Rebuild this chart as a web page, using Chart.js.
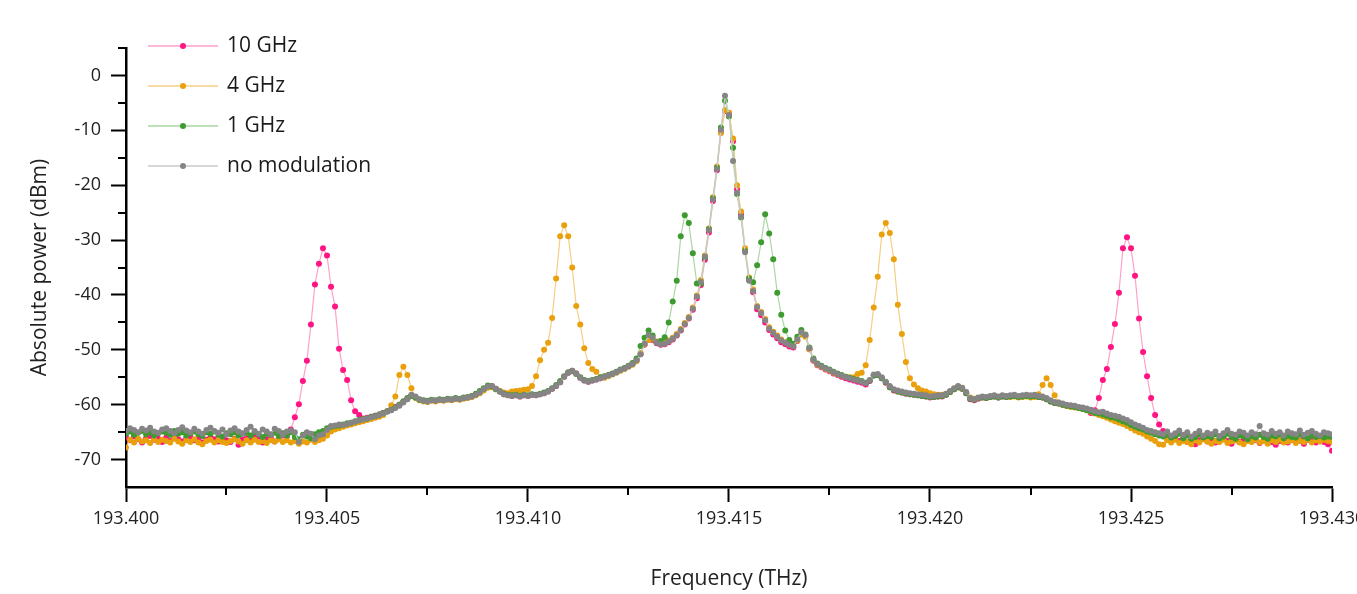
<!DOCTYPE html>
<html>
<head>
<meta charset="utf-8">
<script src="https://cdn.jsdelivr.net/npm/chart.js@4"></script>
<style>
  html, body { margin: 0; padding: 0; background: #fff; overflow: hidden; }
  #wrap { position: relative; width: 1380px; height: 594px; }
</style>
</head>
<body>
<div id="wrap"><canvas id="c"></canvas></div>
<script>
// sampling grid of the spectrum analyser trace (THz)
const freqStart = 193.400;
const freqStep = 0.0001;

const seriesLabels = ['10 GHz', '4 GHz', '1 GHz', 'no modulation'];

// absolute power (dBm), one value per grid step
const power10GHz = [
  -66.0,-66.5,-65.8,-66.3,-66.9,-66.1,-65.7,-66.4,-66.2,-66.8,
  -66.0,-66.6,-65.9,-66.3,-66.7,-66.1,-65.8,-66.5,-66.2,-66.9,
  -66.4,-65.9,-66.3,-66.7,-66.0,-66.5,-66.8,-66.2,-67.3,-66.4,
  -66.1,-66.6,-65.8,-66.4,-66.9,-66.3,-66.0,-66.7,-66.2,-65.6,
  -65.8,-64.5,-62.3,-59.9,-55.7,-52.0,-45.4,-38.1,-34.3,-31.5,
  -32.8,-38.5,-42.1,-49.8,-53.7,-55.5,-59.2,-61.2,-61.9,-62.5,
  -62.4,-62.2,-62.0,-61.8,-61.5,-61.2,-60.8,-60.4,-60.0,-59.4,
  -58.9,-58.3,-58.6,-59.1,-59.3,-59.4,-59.2,-59.3,-59.1,-59.2,
  -59.0,-59.1,-58.9,-59.0,-58.8,-58.7,-58.5,-58.2,-57.8,-57.2,
  -56.7,-56.6,-57.1,-57.6,-58.1,-58.3,-58.4,-58.3,-58.5,-58.3,
  -58.4,-58.2,-58.3,-58.1,-57.9,-57.6,-57.1,-56.6,-55.9,-54.9,
  -54.2,-53.8,-54.3,-55.1,-55.6,-55.8,-55.6,-55.4,-55.2,-54.9,
  -54.7,-54.4,-54.1,-53.7,-53.4,-53.0,-52.6,-51.9,-50.8,-49.1,
  -48.1,-48.2,-48.8,-49.1,-49.0,-48.6,-48.1,-47.4,-46.5,-45.4,
  -44.3,-42.7,-40.6,-38.2,-33.6,-28.6,-22.9,-17.3,-10.4,-6.5,
  -6.9,-12.0,-20.8,-25.3,-31.8,-37.2,-39.5,-42.6,-43.7,-45.0,
  -46.4,-47.2,-47.9,-48.6,-49.0,-49.4,-49.6,-48.4,-47.1,-47.5,
  -49.9,-52.0,-52.8,-53.2,-53.6,-53.9,-54.3,-54.6,-54.9,-55.2,
  -55.4,-55.6,-55.8,-56.0,-56.3,-55.7,-54.7,-54.6,-55.2,-56.0,
  -56.8,-57.4,-57.6,-57.8,-58.0,-58.1,-58.2,-58.3,-58.4,-58.5,
  -58.7,-58.6,-58.5,-58.5,-58.2,-57.7,-57.2,-56.8,-57.1,-57.9,
  -59.0,-59.2,-58.9,-58.7,-58.8,-58.6,-58.5,-58.7,-58.5,-58.6,
  -58.5,-58.4,-58.6,-58.5,-58.4,-58.5,-58.4,-58.6,-58.7,-59.0,
  -59.4,-59.7,-59.8,-60.0,-60.2,-60.3,-60.4,-60.6,-60.7,-60.9,
  -61.5,-61.0,-58.8,-55.5,-53.5,-49.5,-45.3,-39.6,-31.5,-29.5,
  -31.5,-36.5,-44.3,-50.4,-54.8,-58.8,-61.9,-63.6,-64.8,-65.6,
  -66.3,-65.9,-66.6,-66.2,-66.8,-66.4,-67.2,-66.5,-66.1,-66.7,
  -66.3,-66.9,-66.4,-66.0,-66.6,-67.1,-66.3,-66.8,-66.5,-66.2,
  -66.7,-66.4,-67.0,-66.5,-66.2,-66.8,-67.3,-66.6,-66.4,-66.9,
  -66.3,-66.7,-66.5,-67.1,-66.4,-66.6,-66.9,-66.3,-66.8,-67.2,
  -68.4
];

const power4GHz = [
  -67.8,-66.4,-66.9,-66.2,-66.7,-66.5,-67.0,-66.3,-66.8,-66.4,
  -66.6,-66.9,-66.2,-66.7,-67.1,-66.5,-66.8,-66.3,-66.9,-67.2,
  -66.6,-66.4,-66.9,-66.5,-66.8,-67.0,-66.6,-66.3,-66.7,-67.1,
  -66.5,-66.9,-66.4,-66.8,-66.6,-67.0,-66.5,-66.7,-66.3,-66.8,
  -66.5,-66.9,-66.6,-67.1,-66.7,-66.9,-66.4,-66.8,-66.5,-66.2,
  -65.6,-64.9,-64.5,-64.3,-64.0,-63.8,-63.6,-63.4,-63.2,-63.0,
  -62.8,-62.6,-62.4,-62.2,-61.9,-61.2,-60.1,-58.5,-54.6,-53.1,
  -54.6,-57.0,-58.8,-59.2,-59.4,-59.5,-59.3,-59.4,-59.2,-59.3,
  -59.1,-59.2,-59.0,-59.1,-58.9,-58.8,-58.6,-58.3,-57.9,-57.4,
  -56.9,-56.8,-57.2,-57.5,-57.8,-57.9,-57.6,-57.5,-57.4,-57.3,
  -57.2,-56.6,-54.8,-51.9,-50.0,-48.7,-44.2,-37.0,-29.3,-27.3,
  -29.3,-35.0,-42.0,-45.4,-49.7,-52.4,-53.5,-54.0,-55.0,-55.1,
  -54.8,-54.5,-54.2,-53.8,-53.5,-53.1,-52.7,-52.1,-50.6,-49.0,
  -48.2,-48.0,-48.5,-48.8,-48.7,-48.3,-47.8,-47.1,-46.2,-45.1,
  -44.0,-42.3,-40.1,-37.3,-32.8,-27.9,-22.2,-16.6,-10.5,-6.3,
  -6.8,-11.5,-20.0,-24.8,-31.5,-36.8,-39.0,-42.0,-43.1,-44.4,
  -45.9,-46.7,-47.4,-48.1,-48.6,-49.0,-49.2,-48.3,-47.2,-47.6,
  -49.9,-51.9,-52.7,-53.1,-53.5,-53.8,-54.2,-54.5,-54.7,-54.9,
  -55.0,-55.0,-54.4,-54.2,-52.8,-48.2,-42.3,-36.7,-29.0,-26.9,
  -28.7,-33.5,-41.8,-47.1,-52.2,-55.2,-56.3,-57.0,-57.4,-57.6,
  -57.9,-58.1,-58.2,-58.2,-58.0,-57.6,-57.1,-56.7,-57.0,-57.8,
  -58.7,-58.9,-58.8,-58.6,-58.7,-58.5,-58.4,-58.6,-58.4,-58.5,
  -58.6,-58.5,-58.7,-58.6,-58.5,-58.7,-58.6,-58.1,-56.4,-55.2,
  -56.4,-58.3,-59.6,-60.0,-60.2,-60.4,-60.5,-60.6,-60.8,-61.0,
  -61.3,-61.6,-61.9,-62.1,-62.4,-62.7,-63.0,-63.3,-63.5,-63.9,
  -64.3,-64.7,-65.0,-65.3,-65.8,-66.2,-66.6,-67.2,-67.3,-66.5,
  -66.9,-66.4,-67.0,-66.6,-66.8,-67.2,-66.5,-66.9,-66.3,-66.7,
  -67.1,-66.6,-66.8,-66.4,-67.0,-66.7,-66.5,-66.9,-67.2,-66.6,
  -66.8,-66.3,-66.9,-66.6,-67.1,-66.5,-66.8,-66.4,-66.9,-66.7,
  -66.5,-67.0,-66.6,-66.8,-66.3,-66.9,-66.5,-66.7,-66.4,-66.6,
  -66.8
];

const power1GHz = [
  -65.3,-64.9,-65.5,-65.1,-64.8,-65.4,-65.0,-65.6,-65.2,-64.9,
  -65.1,-65.5,-64.8,-65.3,-65.0,-65.6,-65.2,-64.9,-65.4,-65.7,
  -65.0,-65.3,-64.9,-65.5,-65.8,-65.2,-65.4,-65.0,-65.6,-65.3,
  -65.1,-65.6,-65.0,-65.4,-65.9,-65.3,-65.5,-65.1,-65.7,-65.2,
  -65.6,-65.0,-65.9,-66.3,-65.5,-65.8,-66.1,-65.4,-65.0,-64.8,
  -64.3,-64.0,-63.9,-63.8,-63.6,-63.4,-63.3,-63.0,-62.8,-62.6,
  -62.5,-62.2,-62.0,-61.8,-61.5,-61.2,-60.9,-60.5,-60.0,-59.4,
  -58.8,-58.4,-58.7,-59.1,-59.2,-59.3,-59.1,-59.2,-59.0,-59.1,
  -58.9,-59.0,-58.8,-58.9,-58.7,-58.6,-58.4,-58.0,-57.5,-57.0,
  -56.5,-56.7,-57.2,-57.6,-58.0,-58.2,-58.3,-58.2,-58.4,-58.2,
  -58.3,-58.1,-58.2,-58.0,-57.8,-57.5,-57.0,-56.4,-55.7,-54.8,
  -54.1,-53.9,-54.4,-55.0,-55.5,-55.7,-55.5,-55.3,-55.0,-54.8,
  -54.6,-54.3,-54.0,-53.6,-53.3,-52.9,-52.4,-51.6,-49.3,-47.8,
  -46.5,-47.4,-48.6,-48.4,-47.7,-45.0,-41.2,-37.4,-29.3,-25.5,
  -26.9,-32.4,-37.9,-37.9,-33.2,-28.0,-22.4,-16.8,-9.5,-4.6,
  -7.5,-13.2,-21.6,-25.9,-32.0,-37.0,-37.7,-34.6,-30.4,-25.3,
  -28.8,-33.5,-39.6,-43.6,-46.5,-48.2,-48.9,-47.6,-46.4,-47.2,
  -49.6,-51.6,-52.5,-52.9,-53.3,-53.6,-54.0,-54.3,-54.6,-54.9,
  -55.1,-55.3,-55.5,-55.7,-56.0,-55.6,-54.7,-54.6,-55.2,-55.9,
  -56.8,-57.3,-57.6,-57.8,-57.9,-58.1,-58.2,-58.3,-58.4,-58.5,
  -58.6,-58.6,-58.5,-58.4,-58.2,-57.7,-57.2,-56.8,-57.1,-57.9,
  -58.9,-59.1,-58.8,-58.7,-58.8,-58.6,-58.5,-58.7,-58.5,-58.6,
  -58.5,-58.4,-58.6,-58.5,-58.4,-58.5,-58.4,-58.6,-58.7,-59.0,
  -59.4,-59.7,-59.8,-60.0,-60.2,-60.3,-60.4,-60.6,-60.8,-61.0,
  -61.2,-61.5,-61.6,-61.8,-62.0,-62.3,-62.4,-62.7,-63.0,-63.3,
  -63.7,-64.0,-64.3,-64.5,-64.9,-65.1,-65.4,-65.6,-65.8,-65.5,
  -66.0,-65.7,-65.3,-66.1,-65.6,-66.2,-65.9,-65.4,-66.0,-65.7,
  -65.9,-65.4,-66.1,-65.8,-65.3,-65.9,-66.2,-65.6,-65.8,-66.3,
  -65.7,-66.0,-65.5,-65.9,-66.2,-65.6,-65.8,-65.4,-66.1,-65.7,
  -65.9,-66.0,-65.4,-65.8,-66.1,-65.6,-65.9,-65.7,-66.0,-65.8,
  -65.9
];

const powerNoMod = [
  -64.8,-64.3,-64.6,-65.0,-64.4,-64.7,-64.2,-64.9,-65.1,-64.5,
  -64.3,-64.8,-65.2,-64.6,-64.1,-64.7,-65.0,-64.4,-64.9,-65.3,
  -64.6,-64.2,-64.8,-65.1,-64.5,-65.4,-64.7,-64.3,-64.9,-65.2,
  -64.6,-64.0,-64.8,-65.3,-64.5,-64.9,-65.4,-64.4,-64.8,-65.5,
  -64.9,-64.7,-65.0,-66.8,-65.6,-65.0,-65.3,-66.3,-65.6,-65.4,
  -64.6,-63.9,-63.8,-63.6,-63.7,-63.5,-63.3,-63.1,-62.9,-62.7,
  -62.5,-62.3,-62.1,-61.9,-61.6,-61.3,-61.0,-60.6,-60.2,-59.6,
  -59.0,-58.2,-58.5,-59.0,-59.3,-59.4,-59.2,-59.3,-59.1,-59.2,
  -59.0,-59.1,-58.9,-59.0,-58.8,-58.7,-58.5,-58.2,-57.8,-57.2,
  -56.7,-56.6,-57.1,-57.6,-58.1,-58.3,-58.4,-58.3,-58.5,-58.3,
  -58.4,-58.2,-58.3,-58.1,-57.9,-57.6,-57.1,-56.6,-55.9,-54.9,
  -54.2,-53.8,-54.3,-55.1,-55.6,-55.8,-55.6,-55.4,-55.2,-54.9,
  -54.7,-54.4,-54.1,-53.7,-53.4,-53.0,-52.6,-51.9,-50.8,-48.9,
  -47.3,-47.8,-48.7,-49.0,-48.9,-48.5,-48.0,-47.3,-46.4,-45.3,
  -44.2,-42.5,-40.3,-37.6,-33.0,-28.2,-22.6,-17.1,-9.9,-3.7,
  -7.2,-15.6,-21.4,-25.7,-32.2,-37.4,-39.3,-42.2,-43.3,-44.6,
  -46.1,-46.9,-47.6,-48.3,-48.7,-49.1,-49.4,-48.1,-46.8,-47.3,
  -49.7,-51.8,-52.6,-53.0,-53.4,-53.7,-54.1,-54.4,-54.7,-55.0,
  -55.2,-55.4,-55.6,-55.8,-56.1,-55.5,-54.5,-54.4,-55.0,-55.8,
  -56.6,-57.2,-57.4,-57.6,-57.8,-57.9,-58.0,-58.1,-58.2,-58.3,
  -58.5,-58.4,-58.3,-58.3,-58.0,-57.5,-57.0,-56.6,-56.9,-57.7,
  -58.8,-59.0,-58.7,-58.5,-58.6,-58.4,-58.3,-58.5,-58.3,-58.4,
  -58.3,-58.2,-58.4,-58.3,-58.2,-58.3,-58.2,-58.4,-58.5,-58.8,
  -59.2,-59.5,-59.6,-59.8,-60.0,-60.1,-60.2,-60.4,-60.5,-60.7,
  -60.9,-61.2,-61.4,-61.3,-61.6,-61.9,-62.0,-62.2,-62.5,-62.8,
  -63.2,-63.6,-63.9,-64.2,-64.6,-64.8,-65.0,-65.2,-65.4,-64.9,
  -65.6,-65.2,-64.7,-65.5,-65.0,-65.8,-65.3,-64.8,-65.6,-65.1,
  -65.4,-64.9,-65.7,-65.2,-64.6,-65.3,-65.5,-64.9,-65.1,-65.6,
  -65.0,-65.4,-63.9,-65.2,-65.5,-64.8,-65.3,-65.0,-65.6,-64.9,
  -65.2,-65.4,-64.7,-65.5,-65.1,-64.8,-65.3,-65.6,-65.0,-65.2,
  -65.4
];

const xTickValues = [193.400, 193.405, 193.410, 193.415, 193.420, 193.425, 193.430];
const xMinorTicks = [193.4025, 193.4075, 193.4125, 193.4175, 193.4225, 193.4275];
const yTickValues = [0, -10, -20, -30, -40, -50, -60, -70];
const yMinorTicks = [5, -5, -15, -25, -35, -45, -55, -65];

const markerColors = ['#ff1483', '#e9a00c', '#3d9b2f', '#858585'];
const lineColors = ['#ff9fcb', '#f5cf85', '#a9d8a1', '#cacaca'];

const FONT = '"Open Sans", "Noto Sans", sans-serif';

function toPoints(values) {
    return values.map((y, i) => ({ x: freqStart + i * freqStep, y: y }));
}

// minor ticks + legend drawn inside the plot, like the original figure
const extrasPlugin = {
    id: 'extras',
    afterDraw(chart) {
        const ctx = chart.ctx;
        const xs = chart.scales.x, ys = chart.scales.y;
        const area = chart.chartArea;
        ctx.save();
        ctx.strokeStyle = '#000';
        ctx.lineWidth = 2;
        yMinorTicks.forEach(v => {
            const y = Math.round(ys.getPixelForValue(v));
            ctx.beginPath(); ctx.moveTo(area.left - 8, y); ctx.lineTo(area.left, y); ctx.stroke();
        });
        xMinorTicks.forEach(v => {
            const x = Math.round(xs.getPixelForValue(v));
            ctx.beginPath(); ctx.moveTo(x, area.bottom); ctx.lineTo(x, area.bottom + 8); ctx.stroke();
        });

        // legend
        ctx.font = '21px ' + FONT;
        ctx.textBaseline = 'middle';
        ctx.textAlign = 'left';
        seriesLabels.forEach((label, k) => {
            const y = 46 + k * 40;
            ctx.strokeStyle = lineColors[k];
            ctx.lineWidth = 1.3;
            ctx.beginPath(); ctx.moveTo(148, y); ctx.lineTo(218, y); ctx.stroke();
            ctx.fillStyle = markerColors[k];
            ctx.beginPath(); ctx.arc(183, y, 3, 0, Math.PI * 2); ctx.fill();
            ctx.fillStyle = '#1a1a1a';
            ctx.fillText(label, 227, y);
        });
        ctx.restore();
    }
};

const seriesData = [power10GHz, power4GHz, power1GHz, powerNoMod];

new Chart(document.getElementById('c'), {
    type: 'line',
    data: {
        datasets: seriesData.map((vals, k) => ({
            label: seriesLabels[k],
            data: toPoints(vals),
            borderColor: lineColors[k],
            borderWidth: 1.2,
            pointRadius: 3,
            pointBorderWidth: 0,
            pointBackgroundColor: markerColors[k],
            pointBorderColor: markerColors[k],
            tension: 0,
            fill: false,
            order: 4 - k   // "no modulation" drawn on top
        }))
    },
    options: {
        responsive: true,
        maintainAspectRatio: false,
        animation: false,
        layout: { padding: { left: 0, top: 48, right: 48, bottom: 0 } },
        plugins: {
            legend: { display: false },
            tooltip: { enabled: false }
        },
        scales: {
            x: {
                type: 'linear',
                min: 193.400,
                max: 193.430,
                afterBuildTicks: s => { s.ticks = xTickValues.map(v => ({ value: v })); },
                afterFit: s => { s.height = 107; },
                border: { display: true, color: '#000', width: 2.5 },
                grid: { drawOnChartArea: false, drawTicks: true, tickLength: 15, tickColor: '#000', tickWidth: 2 },
                ticks: {
                    color: '#222', padding: 6, maxRotation: 0, autoSkip: false,
                    font: { family: FONT, size: 18 },
                    callback: v => Number(v).toFixed(3)
                },
                title: {
                    display: true, text: 'Frequency (THz)', color: '#222',
                    font: { family: FONT, size: 21 }, padding: { top: 0, bottom: 2 }
                }
            },
            y: {
                min: -75,
                max: 5,
                afterBuildTicks: s => { s.ticks = yTickValues.map(v => ({ value: v })); },
                afterFit: s => { s.width = 126; },
                border: { display: true, color: '#000', width: 2.5 },
                grid: { drawOnChartArea: false, drawTicks: true, tickLength: 15, tickColor: '#000', tickWidth: 2 },
                ticks: {
                    color: '#222', padding: 10,
                    font: { family: FONT, size: 18 },
                    callback: v => String(v)
                },
                title: {
                    display: true, text: 'Absolute power (dBm)', color: '#222',
                    font: { family: FONT, size: 21 }, padding: { top: 27, bottom: 0 }
                }
            }
        }
    },
    plugins: [extrasPlugin]
});
</script>
</body>
</html>
